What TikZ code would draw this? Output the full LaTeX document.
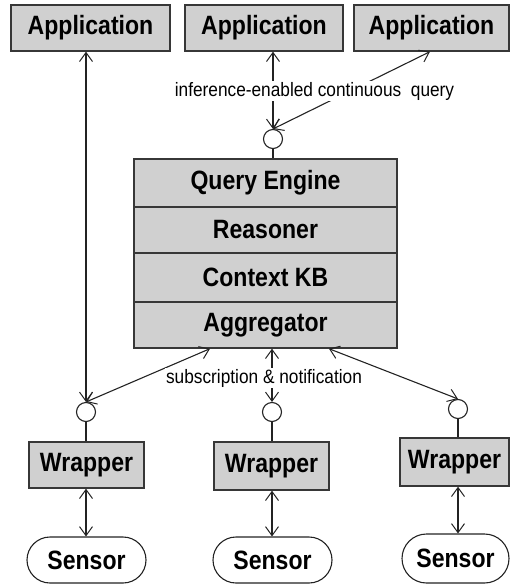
\documentclass[tikz,border=0pt]{standalone}
\usepackage{fontspec}
\setmainfont{Liberation Sans}
\newfontfamily\boxfont[FakeStretch=0.87]{Liberation Sans}
\newfontfamily\lblfont[FakeStretch=0.89]{Liberation Sans}
\usetikzlibrary{arrows.meta,shapes.misc,calc}
\definecolor{boxfill}{RGB}{208,208,208}
\definecolor{boxline}{RGB}{55,55,55}
\definecolor{conn}{RGB}{35,35,35}
\begin{document}
\begin{tikzpicture}[x=1pt,y=-1pt,
  box/.style={draw=boxline,fill=boxfill,line width=1.4pt,inner sep=0pt,
    font=\boxfont\fontsize{26.5}{28}\selectfont\bfseries},
  layer/.style={box,minimum width=263pt},
  sensorbox/.style={draw=conn,fill=white,line width=1.1pt,rounded rectangle,inner sep=0pt,
    minimum width=119pt,minimum height=46pt,font=\boxfont\fontsize{26.5}{28}\selectfont\bfseries},
  port/.style={draw=conn,fill=white,circle,line width=1.1pt,minimum size=19pt,inner sep=0pt},
  tip/.tip={Straight Barb[length=9pt,width=13pt,line width=1pt]},
  biarrow/.style={draw=conn,line width=1.1pt,{tip}-{tip}},
  plain/.style={draw=conn,line width=1.1pt},
  lbl/.style={fill=white,inner sep=1pt,font=\lblfont\fontsize{19.4}{21}\selectfont}]
\useasboundingbox (0,0) rectangle (510,584);
% applications
\node[box,minimum width=159pt,minimum height=46pt] (app1) at (90.5,28) {Application};
\node[box,minimum width=158pt,minimum height=46pt] (app2) at (264,28) {Application};
\node[box,minimum width=155pt,minimum height=46pt] (app3) at (431.5,28) {Application};
% query port
\node[port] (qp) at (273,139) {};
% stack
\node[layer,minimum height=48pt] (qe) at (265.5,183) {Query Engine};
\node[layer,minimum height=46pt] (rs) at (265.5,230) {Reasoner};
\node[layer,minimum height=49pt] (kb) at (265.5,277.5) {Context KB};
\node[layer,minimum height=46pt] (ag) at (265.5,325) {Aggregator};
% ports
\node[port] (p1) at (86,412) {};
\node[port] (p2) at (272,412) {};
\node[port] (p3) at (458,409) {};
% wrappers
\node[box,minimum width=115pt,minimum height=46pt] (w1) at (86.5,465) {Wrapper};
\node[box,minimum width=115pt,minimum height=48pt] (w2) at (271.5,466) {Wrapper};
\node[box,minimum width=109pt,minimum height=48pt] (w3) at (454.5,462) {Wrapper};
% sensors
\node[sensorbox] (s1) at (86.5,560) {Sensor};
\node[sensorbox] (s2) at (272.5,560) {Sensor};
\node[sensorbox,minimum width=107pt,minimum height=49pt] (s3) at (455.5,558.5) {Sensor};
% stems
\draw[plain] (qp.south) -- (qp.south |- qe.north);
\draw[plain] (p1.south) -- (p1.south |- w1.north);
\draw[plain] (p2.south) -- (p2.south |- w2.north);
\draw[plain] (p3.south) -- (p3.south |- w3.north);
% top connectors
\coordinate (a3) at ($(app3.south west)!0.49!(app3.south east)$);
\draw[biarrow] (app1.south -| p1) -- (p1.north);
\draw[biarrow] (app2.south -| qp) -- (qp.north);
\draw[biarrow] (a3) -- (qp.north);
% bottom connectors
\coordinate (b1) at ($(ag.south west)!0.29!(ag.south east)$);
\coordinate (b3) at ($(ag.south west)!0.74!(ag.south east)$);
\draw[biarrow] (b1) -- (p1.north);
\draw[biarrow] (ag.south -| p2) -- (p2.north);
\draw[biarrow] (b3) -- (p3.north);
% wrapper-sensor
\draw[biarrow] (w1.south -| p1) -- (s1.north -| p1);
\draw[biarrow] (w2.south -| p2) -- (s2.north -| p2);
\draw[biarrow] (w3.south -| p3) -- (s3.north -| p3);
% labels
\node[lbl] (lq) at (314.5,91) {inference-enabled continuous\ \ query};
\node[lbl] (ls) at (264,378) {subscription \& notification};
\end{tikzpicture}
\end{document}
